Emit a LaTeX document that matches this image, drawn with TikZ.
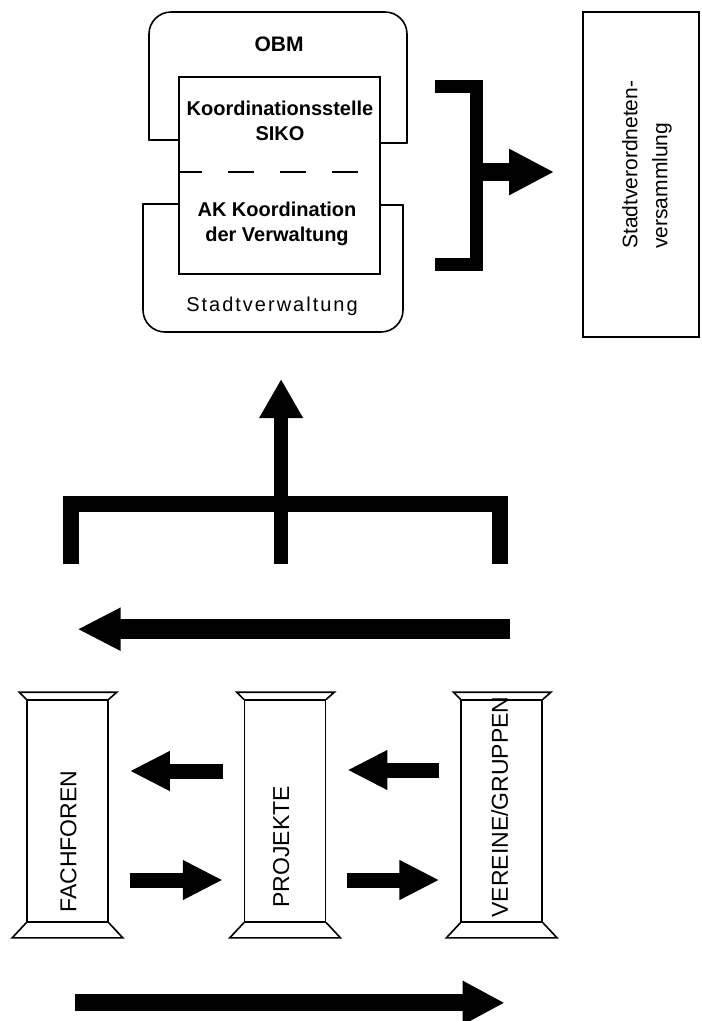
\documentclass[tikz,border=0pt]{standalone}
\usepackage{fontspec}
\setmainfont{Liberation Sans}
\newfontfamily\widesans[LetterSpace=10]{Liberation Sans}
\usetikzlibrary{arrows.meta,positioning}

\begin{document}
\begin{tikzpicture}[
  x=1pt, y=-1pt,
  font=\fontsize{20}{24}\selectfont,
  outline/.style={draw, line width=1.6pt, line cap=round},
  boxtitle/.style={font=\fontsize{20}{25}\selectfont\bfseries, align=center},
  pillar/.style={outline, minimum width=81pt, minimum height=222pt, inner sep=0pt},
  plabel/.style={rotate=90, anchor=west, inner sep=0pt, font=\fontsize{23}{27}\selectfont},
  bar/.style={line width=15pt},
  bigarrow/.style={line width=17pt, -{Triangle[length=42pt, width=41pt]}},
  smallarrow/.style={line width=15pt, -{Triangle[length=40pt, width=37pt]}, shorten <=21pt, shorten >=21pt}
]
  \useasboundingbox (0,0) rectangle (702,1021);

  \node[outline, minimum width=201pt, minimum height=197pt] (siko) at (279.5,175.5) {};
  \node[boxtitle, font=\fontsize{21}{25}\selectfont\bfseries] (obm) at (279,44) {OBM};
  \node[boxtitle] (sikotext) at (280,121) {Koordinationsstelle\\SIKO};
  \node[boxtitle] (aktext) at (277,224) {AK Koordination\\der Verwaltung};
  \node[font=\fontsize{20}{24}\widesans] (verw) at (272,306) {Stadtverwaltung};
  \draw[line width=1.6pt, dash pattern=on 26pt off 26pt, dash phase=2pt] (siko.west |- 0,172) -- (siko.east |- 0,172);

  \draw[outline, rounded corners=22pt] (149,140) -- (149,12) -- (407,12) -- (407,143);
  \draw[outline] (siko.west |- 0,140) -- (149,140);
  \draw[outline] (407,143) -- (siko.east |- 0,143);
  \draw[outline, rounded corners=22pt] (143,204) -- (143,332) -- (403,332) -- (403,205);
  \draw[outline] (siko.west |- 0,204) -- (143,204);
  \draw[outline] (403,205) -- (siko.east |- 0,205);
  \coordinate (svb) at (280,332);

  \node[outline, minimum width=116pt, minimum height=325pt] (svv) at (641,174.5) {};
  \node[rotate=90, align=left, anchor=west, inner sep=0pt, font=\fontsize{21}{30}\selectfont] (svvtext) at (647,249) {Stadtverordneten-\\versammlung};

  \coordinate (jr) at (476,172);
  \draw[bar, line width=13pt] (435,86) -- (476,86) -- (476,264) -- (435,264);
  \draw[bigarrow, line width=18pt, -{Triangle[length=45pt, width=43pt]}, shorten >=28pt] (jr) -- (jr -| svv.west);

  \node[pillar] (fach) at (67.5,811) {};
  \node[pillar, right=135pt of fach] (proj) {};
  \node[pillar, right=134pt of proj] (ver) {};
  \foreach \p in {fach,proj,ver} {
    \draw[outline] (\p.north west) -- ++(-7,-7) -- ([xshift=8pt, yshift=7pt]\p.north east) -- (\p.north east);
    \draw[outline] (\p.south west) -- ++(-14,15) -- ([xshift=14pt, yshift=-15pt]\p.south east) -- (\p.south east);
  }
  \node[plabel] at ([xshift=1pt, yshift=10pt]fach.south) {FACHFOREN};
  \node[plabel] at ([xshift=-4pt, yshift=15pt]proj.south) {PROJEKTE};
  \node[plabel] at ([xshift=-2pt, yshift=5pt]ver.south) {VEREINE/GRUPPEN};

  \draw[smallarrow] ([yshift=40pt]proj.west) -- ([yshift=40pt]fach.east);
  \draw[smallarrow] ([yshift=-69pt]fach.east) -- ([yshift=-69pt]proj.west);
  \draw[smallarrow] ([yshift=41pt]ver.west) -- ([yshift=41pt]proj.east);
  \draw[smallarrow] ([yshift=-69pt]proj.east) -- ([yshift=-69pt]ver.west);

  \draw[bigarrow, line width=20pt, -{Triangle[length=43pt, width=40pt]}] ([xshift=8pt, yshift=70pt]ver.north) -- ([xshift=10pt, yshift=70pt]fach.north);
  \draw[bigarrow] ([xshift=7pt, yshift=-80pt]fach.south) -- ([xshift=3pt, yshift=-80pt]ver.south);

  \coordinate (lf) at ([xshift=3pt, yshift=135pt]fach.north);
  \coordinate (lp) at ([xshift=-4pt, yshift=135pt]proj.north);
  \coordinate (lv) at ([xshift=-2pt, yshift=135pt]ver.north);
  \draw[bar, line width=16pt] (lf) -- ++(0,-60) -| (lv);
  \draw[bigarrow, line width=14pt, -{Triangle[length=39pt, width=41pt]}, shorten >=47pt] (lp) -- (lp |- svb);
\end{tikzpicture}
\end{document}
